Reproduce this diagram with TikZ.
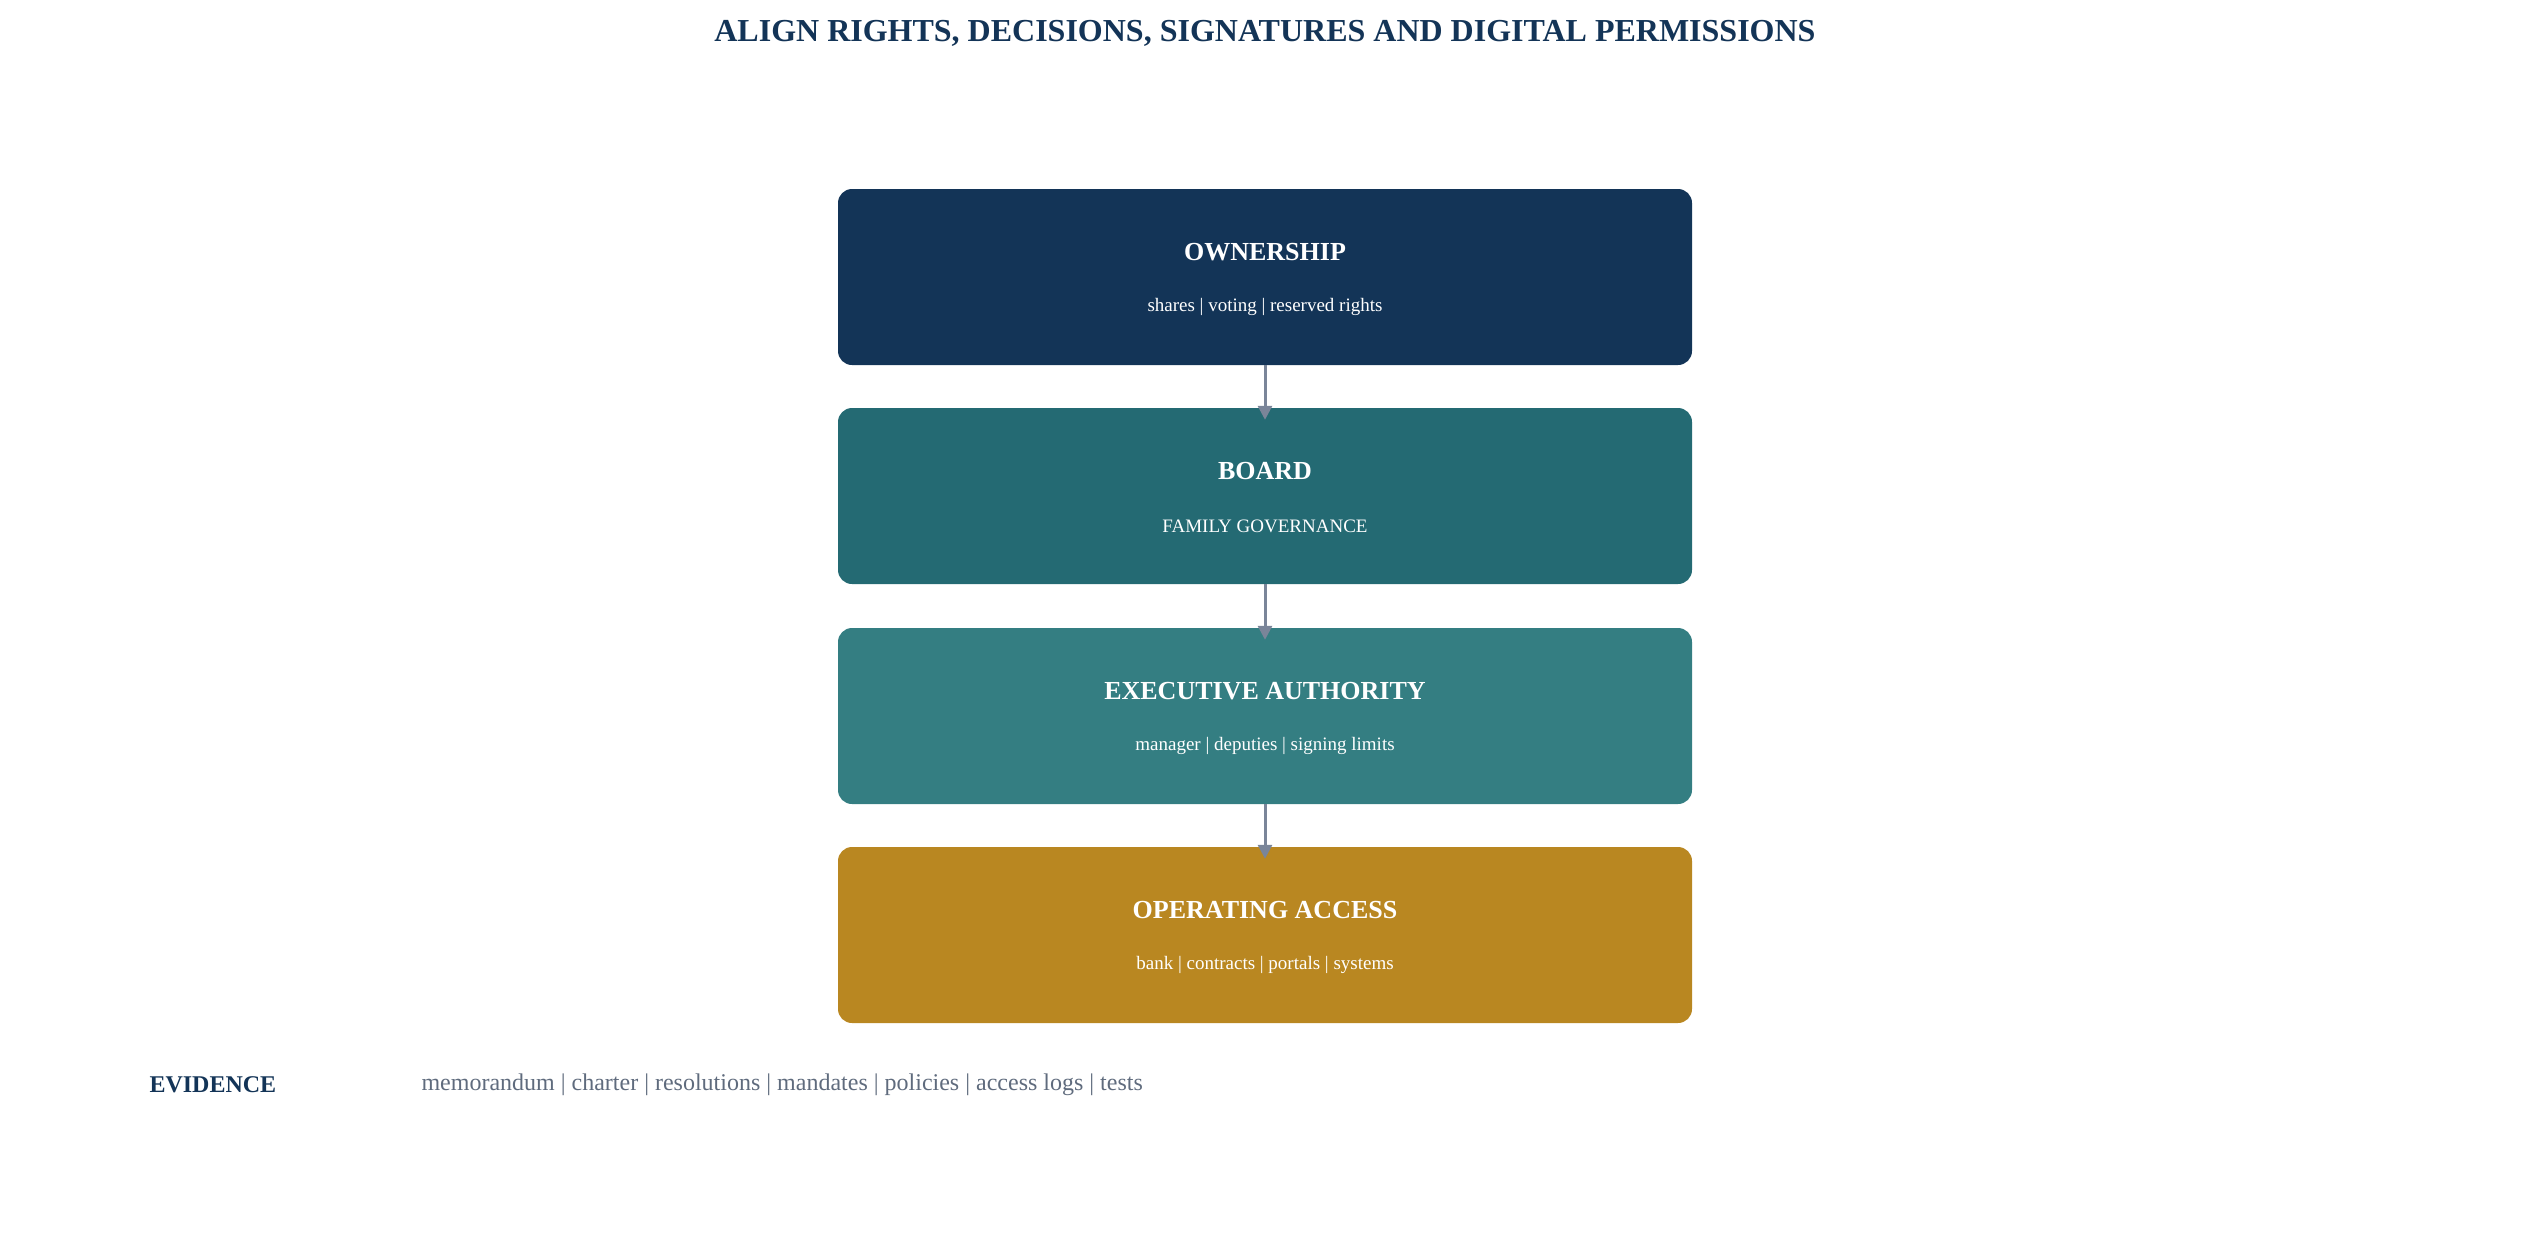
\documentclass[tikz,border=0pt]{standalone}
\usepackage{fontspec}
\setmainfont{Liberation Serif}
\usetikzlibrary{arrows.meta}
\definecolor{navy}{HTML}{133457}
\definecolor{tealA}{HTML}{246A73}
\definecolor{tealB}{HTML}{347E82}
\definecolor{gold}{HTML}{B98721}
\definecolor{arr}{HTML}{7A8599}
\definecolor{gray}{HTML}{5F6B7D}
\begin{document}
\begin{tikzpicture}[x=1pt,y=-1pt,
  box/.style={rounded corners=14pt,minimum width=854pt,minimum height=176pt,inner sep=0pt},
  ttl/.style={text=white,font=\fontsize{26}{30}\selectfont\bfseries},
  sub/.style={text=white,font=\fontsize{19}{22}\selectfont},
  con/.style={draw=arr,line width=3pt,-{Triangle[length=14pt,width=14pt]}}]
\useasboundingbox (0,0) rectangle (2530,1254);
\node[text=navy,font=\fontsize{32}{36}\selectfont\bfseries] (title) at (1265,33) {ALIGN RIGHTS, DECISIONS, SIGNATURES AND DIGITAL PERMISSIONS};
\foreach \n/\c/\y/\t/\s in {own/navy/277/OWNERSHIP/shares | voting | reserved rights,
  brd/tealA/496/BOARD / FAMILY GOVERNANCE/oversight | succession | reserved matters,
  exe/tealB/716/EXECUTIVE AUTHORITY/manager | deputies | signing limits,
  ops/gold/935/OPERATING ACCESS/bank | contracts | portals | systems}{
  \node[box,fill=\c] (\n) at (1265,\y) {};
  \node[ttl] (\n t) at (1265,\y-25) {\t};
  \node[sub] (\n s) at (1265,\y+30) {\s};
}
\draw[con] (own.south) -- ([yshift=-12pt]brd.north);
\draw[con] (brd.south) -- ([yshift=-12pt]exe.north);
\draw[con] (exe.south) -- ([yshift=-12pt]ops.north);
\node[anchor=west,text=navy,font=\fontsize{24}{28}\selectfont\bfseries] (ev) at (146,1085) {EVIDENCE};
\node[anchor=west,text=gray,font=\fontsize{24}{28}\selectfont] (evt) at (418,1085) {memorandum | charter | resolutions | mandates | policies | access logs | tests};
\end{tikzpicture}
\end{document}
